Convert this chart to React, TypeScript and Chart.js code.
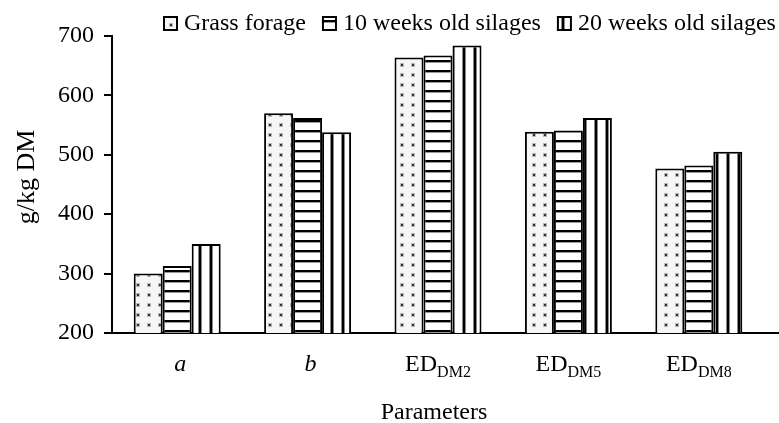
import React, { useEffect, useRef } from "react";
import { Chart, registerables } from "chart.js";

Chart.register(...registerables);

const categoryMain = ["a", "b", "ED", "ED", "ED"];
const categorySub = ["", "", "DM2", "DM5", "DM8"];
const categoryItalic = [true, true, false, false, false];
const categories = categoryMain.map((m, i) => m + categorySub[i]);

const seriesNames = ["Grass forage", "10 weeks old silages", "20 weeks old silages"];
const grassForage = [300, 570, 664, 539, 477];
const weeks10 = [313, 562, 667, 541, 482];
const weeks20 = [350, 538, 684, 562, 505];

const yMin = 200;
const yMax = 700;
const yStep = 100;

const yTitle = "g/kg DM";
const xTitle = "Parameters";

const SERIF = "'Times New Roman', 'Liberation Serif', serif";

function makePattern(kind: string): CanvasPattern {
  const c = document.createElement("canvas");
  const ctx = c.getContext("2d") as CanvasRenderingContext2D;
  if (kind === "dots") {
    c.width = 11;
    c.height = 10;
    ctx.fillStyle = "#f6f6f6";
    ctx.fillRect(0, 0, 11, 10);
    ctx.fillStyle = "#b8b8b8";
    ctx.fillRect(4, 3, 4, 4);
    ctx.fillStyle = "#333";
    ctx.fillRect(5, 4, 2, 2);
  } else if (kind === "h") {
    c.width = 10;
    c.height = 10;
    ctx.fillStyle = "#fff";
    ctx.fillRect(0, 0, 10, 10);
    ctx.fillStyle = "#000";
    ctx.fillRect(0, 0, 10, 2);
    ctx.fillStyle = "#999";
    ctx.fillRect(0, 2, 10, 1);
  } else {
    c.width = 11;
    c.height = 10;
    ctx.fillStyle = "#fff";
    ctx.fillRect(0, 0, 11, 10);
    ctx.fillStyle = "#888";
    ctx.fillRect(0, 0, 4, 10);
    ctx.fillStyle = "#000";
    ctx.fillRect(1, 0, 2, 10);
  }
  return ctx.createPattern(c, "repeat") as CanvasPattern;
}

export default function App() {
  const ref = useRef<HTMLCanvasElement | null>(null);

  useEffect(() => {
    const canvas = ref.current;
    if (!canvas) return;
    const patterns = [makePattern("dots"), makePattern("h"), makePattern("v")];

    const customDraw = {
      id: "customDraw",
      afterDraw(chart: any) {
        const ctx: CanvasRenderingContext2D = chart.ctx;
        const area = chart.chartArea;
        const xs = chart.scales.x;
        ctx.save();
        // extend x axis line to the right edge
        ctx.strokeStyle = "#000";
        ctx.lineWidth = 2;
        ctx.beginPath();
        ctx.moveTo(area.right - 1, area.bottom);
        ctx.lineTo(chart.width, area.bottom);
        ctx.stroke();

        // category labels
        ctx.fillStyle = "#000";
        ctx.textBaseline = "alphabetic";
        for (let i = 0; i < categories.length; i++) {
          const cx = xs.getPixelForValue(i);
          const mainFont = (categoryItalic[i] ? "italic " : "") + "24px " + SERIF;
          const subFont = "16px " + SERIF;
          ctx.font = mainFont;
          const mw = ctx.measureText(categoryMain[i]).width;
          ctx.font = subFont;
          const sw = categorySub[i] ? ctx.measureText(categorySub[i]).width : 0;
          const total = mw + sw;
          const x0 = cx - total / 2 + (categoryItalic[i] ? 3 : 0);
          ctx.textAlign = "left";
          ctx.font = mainFont;
          ctx.fillText(categoryMain[i], x0, area.bottom + 38);
          if (categorySub[i]) {
            ctx.font = subFont;
            ctx.fillText(categorySub[i], x0 + mw, area.bottom + 44);
          }
        }

        // x title
        ctx.font = "24px " + SERIF;
        ctx.textAlign = "center";
        ctx.fillText(xTitle, (area.left + area.right) / 2 - 4, area.bottom + 86);

        // y title
        ctx.save();
        ctx.translate(34, 177);
        ctx.rotate(-Math.PI / 2);
        ctx.textAlign = "center";
        ctx.font = "26px " + SERIF;
        ctx.fillText(yTitle, 0, 0);
        ctx.restore();

        // legend
        let lx = 163;
        const boxY = 16;
        const box = 15;
        ctx.font = "24px " + SERIF;
        ctx.textAlign = "left";
        for (let i = 0; i < seriesNames.length; i++) {
          ctx.fillStyle = patterns[i];
          ctx.fillRect(lx, boxY, box, box);
          ctx.strokeStyle = "#000";
          ctx.lineWidth = 2;
          ctx.strokeRect(lx + 1, boxY + 1, box - 2, box - 2);
          ctx.fillStyle = "#000";
          ctx.fillText(seriesNames[i], lx + box + 6, 30);
          const w = ctx.measureText(seriesNames[i]).width;
          lx += box + 6 + w + 16;
        }
        ctx.restore();
      },
    };

    const seriesValues = [grassForage, weeks10, weeks20];
    const chart = new Chart(canvas, {
      type: "bar",
      data: {
        labels: categories,
        datasets: seriesNames.map((name, i) => ({
          label: name,
          data: seriesValues[i],
          backgroundColor: patterns[i],
          borderColor: "#000",
          borderWidth: 2,
          borderSkipped: false,
          categoryPercentage: 0.667,
          barPercentage: 1,
        })),
      },
      options: {
        responsive: false,
        animation: false,
        events: [],
        layout: { padding: { top: 36, right: 15, left: 0, bottom: 0 } },
        plugins: {
          legend: { display: false },
          tooltip: { enabled: false },
          title: { display: false },
        },
        scales: {
          x: {
            type: "category",
            grid: { display: false },
            border: { display: true, color: "#000", width: 2 },
            ticks: { display: false },
            afterFit: (scale: any) => {
              scale.height = 90;
            },
          },
          y: {
            min: yMin,
            max: yMax,
            ticks: {
              stepSize: yStep,
              color: "#000",
              padding: 10,
              font: { family: SERIF, size: 24 },
            },
            grid: {
              display: true,
              drawOnChartArea: false,
              drawTicks: true,
              tickLength: 8,
              color: "#000",
              lineWidth: 2,
            },
            border: { display: true, color: "#000", width: 2 },
            afterFit: (scale: any) => {
              scale.width = 112;
            },
          },
        },
      },
      plugins: [customDraw],
    } as any);

    return () => {
      chart.destroy();
    };
  }, []);

  return (
    <canvas
      ref={ref}
      width={779}
      height={423}
      style={{ position: "absolute", left: 0, top: 0, width: 779, height: 423 }}
    />
  );
}
